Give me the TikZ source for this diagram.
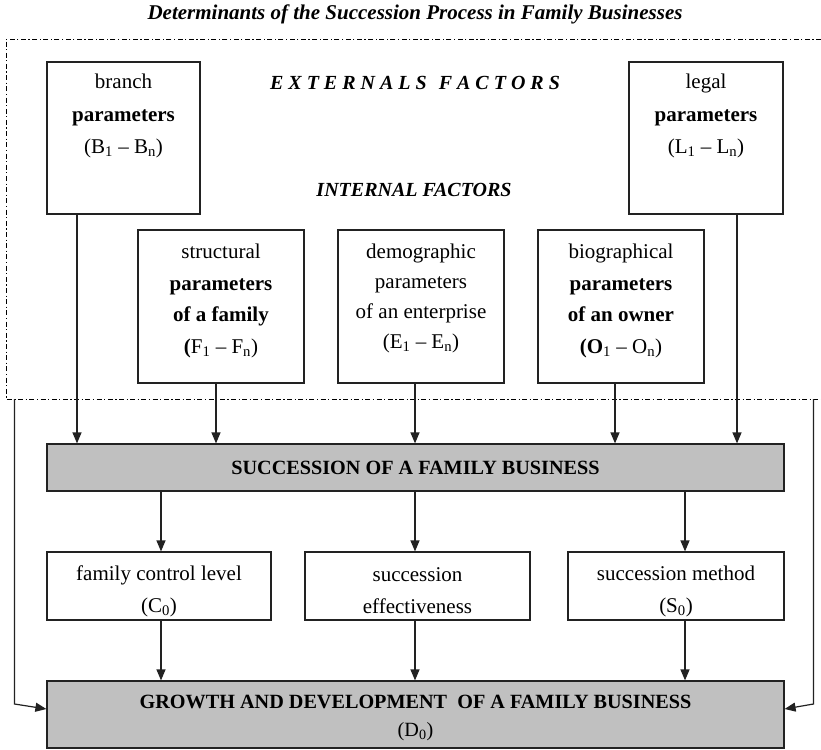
\documentclass[tikz,border=0pt]{standalone}
\usepackage{fontspec}
\setmainfont{Liberation Serif}
\usetikzlibrary{arrows.meta}

\definecolor{boxgray}{HTML}{C0C0C0}
\definecolor{edge}{HTML}{222222}

\tikzset{
  box/.style={rectangle, draw=edge, line width=1.2pt, inner sep=0pt},
  graybox/.style={box, fill=boxgray},
  txt/.style={align=center, inner sep=0pt, font=\fontsize{21}{32.5}\selectfont},
  heading/.style={inner sep=0pt, font=\fontsize{20}{22}\selectfont\bfseries\itshape},
  arr/.style={draw=edge, line width=1.2pt, -{Triangle[length=11pt,width=9pt]}},
  frameline/.style={draw=black, line width=0.9pt,
    dash pattern=on 5pt off 2.5pt on 1.2pt off 2.5pt},
}

\begin{document}
\begin{tikzpicture}[x=1pt, y=-1pt]
\useasboundingbox (0,0) rectangle (821,749);

% title
\node[heading, font=\fontsize{21}{23}\selectfont\bfseries\itshape] (title) at (415,14)
  {Determinants of the Succession Process in Family Businesses};

% dash-dotted frame around the influencing factors
\coordinate (ftr) at (821,39);
\coordinate (ftl) at (6,39);
\coordinate (fbl) at (6,399);
\coordinate (fbr) at (821,399);
\draw[frameline] (ftr) -- (ftl) -- (fbl) -- (fbr);

\node[heading] (ext) at (415,83)
  {E X T E R N A L S\hspace{12pt}F A C T O R S};
\node[heading] (int) at (414,190) {INTERNAL FACTORS};

% external factor boxes
\node[box, minimum width=153pt, minimum height=152pt] (branch) at (123.5,138) {};
\node[txt] (branch-t) at (123.5,116)
  {branch\\\textbf{parameters}\\(B\textsubscript{1} – B\textsubscript{n})};

\node[box, minimum width=154pt, minimum height=152pt] (legal) at (706,138) {};
\node[txt] (legal-t) at (706,116)
  {legal\\\textbf{parameters}\\(L\textsubscript{1} – L\textsubscript{n})};

% internal factor boxes
\node[box, minimum width=166pt, minimum height=153pt] (struct) at (221,306.5) {};
\node[txt, font=\fontsize{21}{31.5}\selectfont] (struct-t) at (221,301)
  {structural\\\textbf{parameters}\\\textbf{of a family}\\\textbf{(}F\textsubscript{1} – F\textsubscript{n})};

\node[box, minimum width=166pt, minimum height=153pt] (demo) at (421,306.5) {};
\node[txt, font=\fontsize{21}{30}\selectfont] (demo-t) at (421,298)
  {demographic\\parameters\\of an enterprise\\(E\textsubscript{1} – E\textsubscript{n})};

\node[box, minimum width=166pt, minimum height=153pt] (bio) at (621,306.5) {};
\node[txt, font=\fontsize{21}{31.5}\selectfont] (bio-t) at (621,301)
  {biographical\\\textbf{parameters}\\\textbf{of an owner}\\\textbf{(O}\textsubscript{1} – O\textsubscript{n})};

% succession
\node[graybox, minimum width=737pt, minimum height=47pt] (succ) at (415.5,467.5) {};
\node[txt, font=\fontsize{20.2}{22}\selectfont\bfseries] (succ-t) at (415.5,467.5)
  {SUCCESSION OF A FAMILY BUSINESS};

% outcomes
\node[box, minimum width=224pt, minimum height=68pt] (ctrl) at (159,586) {};
\node[txt, font=\fontsize{21}{32}\selectfont] (ctrl-t) at (159,591)
  {family control level\\(C\textsubscript{0})};

\node[box, minimum width=225pt, minimum height=68pt] (eff) at (417.5,586) {};
\node[txt, font=\fontsize{21}{32}\selectfont] (eff-t) at (417.5,591)
  {succession\\effectiveness};

\node[box, minimum width=216pt, minimum height=68pt] (meth) at (676,586) {};
\node[txt, font=\fontsize{21}{32}\selectfont] (meth-t) at (676,591)
  {succession method\\(S\textsubscript{0})};

% growth and development
\node[graybox, minimum width=737pt, minimum height=67pt] (grow) at (415.5,714.5) {};
\node[txt, font=\fontsize{20.2}{28}\selectfont] (grow-t) at (415.5,718)
  {\textbf{GROWTH AND DEVELOPMENT\ \ OF A FAMILY BUSINESS}\\(D\textsubscript{0})};

% factors -> succession
\draw[arr] ([xshift=-46.5pt]branch.south) -- ([xshift=-46.5pt]branch.south |- succ.north);
\draw[arr] ([xshift=-5pt]struct.south) -- ([xshift=-5pt]struct.south |- succ.north);
\draw[arr] ([xshift=-6pt]demo.south) -- ([xshift=-6pt]demo.south |- succ.north);
\draw[arr] ([xshift=-6pt]bio.south) -- ([xshift=-6pt]bio.south |- succ.north);
\draw[arr] ([xshift=31pt]legal.south) -- ([xshift=31pt]legal.south |- succ.north);

% succession -> outcomes
\draw[arr] ([xshift=2pt]ctrl.north |- succ.south) -- ([xshift=2pt]ctrl.north);
\draw[arr] ([xshift=-2.5pt]eff.north |- succ.south) -- ([xshift=-2.5pt]eff.north);
\draw[arr] ([xshift=9pt]meth.north |- succ.south) -- ([xshift=9pt]meth.north);

% outcomes -> growth
\draw[arr] ([xshift=2pt]ctrl.south) -- ([xshift=2pt]ctrl.south |- grow.north);
\draw[arr] ([xshift=-2.5pt]eff.south) -- ([xshift=-2.5pt]eff.south |- grow.north);
\draw[arr] ([xshift=9pt]meth.south) -- ([xshift=9pt]meth.south |- grow.north);

% direct influence of the frame on growth
\coordinate (lt) at (14.5,399);
\coordinate (lb) at (14.5,704);
\coordinate (rt) at (813.5,399);
\coordinate (rb) at (813.5,704);
\draw[arr] (lt) -- (lb) -- ([yshift=5.5pt]grow.west);
\draw[arr] (rt) -- (rb) -- ([yshift=5.5pt]grow.east);
\end{tikzpicture}
\end{document}
